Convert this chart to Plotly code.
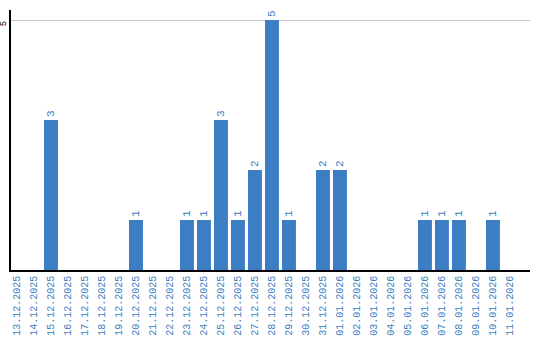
import plotly.graph_objects as go

dates = ["13.12.2025","14.12.2025","15.12.2025","16.12.2025","17.12.2025","18.12.2025",
         "19.12.2025","20.12.2025","21.12.2025","22.12.2025","23.12.2025","24.12.2025",
         "25.12.2025","26.12.2025","27.12.2025","28.12.2025","29.12.2025","30.12.2025",
         "31.12.2025","01.01.2026","02.01.2026","03.01.2026","04.01.2026","05.01.2026",
         "06.01.2026","07.01.2026","08.01.2026","09.01.2026","10.01.2026","11.01.2026"]
counts = [0,0,3,0,0,0,0,1,0,0,1,1,3,1,2,5,1,0,2,2,0,0,0,0,1,1,1,0,1,0]

idx = list(range(len(dates)))
blue = "#3b7ec3"
mono = "Liberation Mono"

fig = go.Figure(go.Bar(
    x=idx, y=counts, width=0.82,
    marker=dict(color=blue, line=dict(width=0)),
    text=[str(c) if c > 0 else "" for c in counts],
    textposition="outside", textangle=-90, cliponaxis=False,
    textfont=dict(family=mono, size=11, color=blue),
))

fig.update_layout(
    width=540, height=340,
    margin=dict(l=11, r=10, t=10, b=70),
    paper_bgcolor="white", plot_bgcolor="white",
    showlegend=False,
    xaxis=dict(
        tickmode="array", tickvals=idx, ticktext=dates, tickangle=-90,
        range=[-0.353, 30.18], showgrid=False, zeroline=False,
        showline=True, linecolor="black", linewidth=1.5, automargin=False,
        ticks="", tickfont=dict(family=mono, size=10, color=blue),
    ),
    yaxis=dict(
        range=[0, 5.2], tickvals=[5], ticktext=["5"], tickangle=-90,
        showgrid=True, gridcolor="#c8c8c8", gridwidth=1, zeroline=False,
        showline=True, linecolor="black", linewidth=1.5, ticks="", automargin=False,
        ticklabelshift=5,
        tickfont=dict(family=mono, size=9, color="black"),
    ),
    uniformtext=dict(minsize=8),
)

fig.write_html("out.html")
